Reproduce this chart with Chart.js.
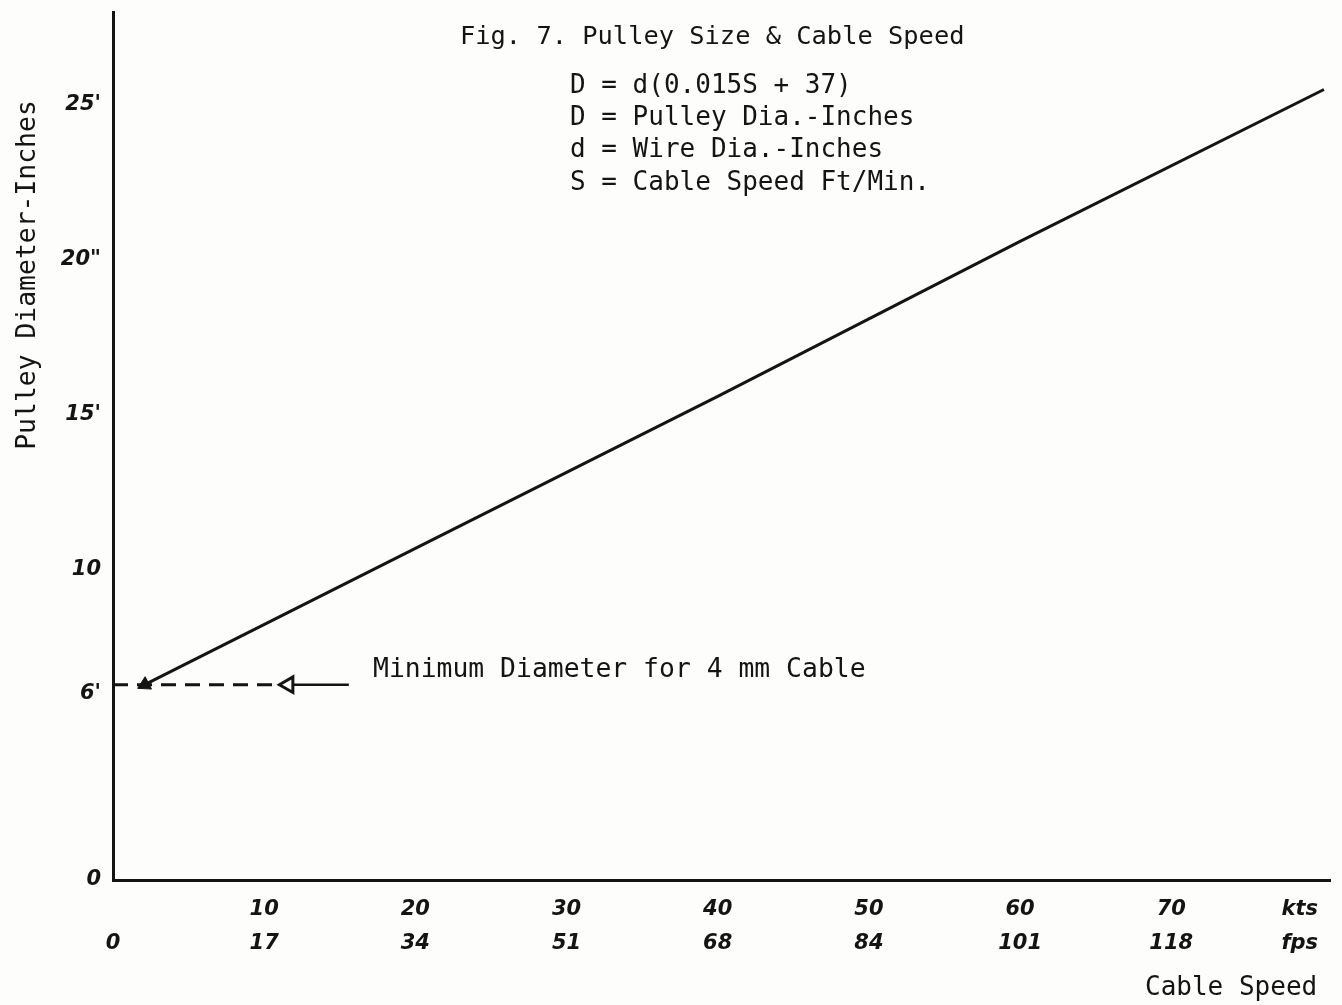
<!DOCTYPE html>
<html>
<head>
<meta charset="utf-8">
<title>Fig. 7 Pulley Size & Cable Speed</title>
<script src="https://cdn.jsdelivr.net/npm/chart.js@4.4.1/dist/chart.umd.min.js"></script>
<style>
    html, body { margin: 0; padding: 0; background: #fdfdfc; }
    #wrap { width: 1342px; height: 1005px; }
</style>
</head>
<body>
<div id="wrap"><canvas id="pulleyChart" width="1342" height="1005"></canvas></div>
<script>
// values
const speedKnots = [2.1, 20, 40, 60, 80.1];
const pulleyDia = [6.3, 10.7, 15.6, 20.6, 25.5];

// minimum diameter marker (4 mm cable)
const minDia = 6.3;
const minDashKnots = [0, 11];
const minLeaderKnots = [11.6, 15.6];

// axis ticks
const xTickValues = [0, 10, 20, 30, 40, 50, 60, 70, 78.5];
const knotLabels = ['', '10', '20', '30', '40', '50', '60', '70', 'kts'];
const fpsLabels = ['0', '17', '34', '51', '68', '84', '101', '118', 'fps'];
const yTickValues = [0, 6, 10, 15, 20, 25];
const yTickLabels = ['0', '6\'', '10', '15\'', '20"', '25\''];

const titleLines = [
    'D = d(0.015S + 37)',
    'D = Pulley Dia.-Inches',
    'd = Wire Dia.-Inches',
    'S = Cable Speed Ft/Min.'
];

const INK = '#141414';
const TYPE_FONT = '"DejaVu Sans Mono", "Liberation Mono", monospace';
const HAND_FONT = { family: '"DejaVu Sans", sans-serif', size: 21, style: 'italic', weight: 'bold', lineHeight: 1.65 };

// typed text on the figure
const typedText = {
    id: 'typedText',
    afterDraw(chart) {
        const ctx = chart.ctx;
        ctx.save();
        ctx.fillStyle = INK;
        ctx.textBaseline = 'middle';
        ctx.textAlign = 'left';
        ctx.font = '25.4px ' + TYPE_FONT;
        ctx.fillText('Fig. 7. Pulley Size & Cable Speed', 460, 37);

        ctx.font = '26px ' + TYPE_FONT;
        titleLines.forEach((line, i) => {
            ctx.fillText(line, 570, 86 + i * 32.3);
        });

        ctx.font = '26.4px ' + TYPE_FONT;
        ctx.fillText('Minimum Diameter for 4 mm Cable', 373, 670);

        ctx.font = '26px ' + TYPE_FONT;
        ctx.fillText('Cable Speed', 1145, 988);

        // y axis title
        ctx.font = '26.4px ' + TYPE_FONT;
        ctx.translate(28, 275);
        ctx.rotate(-Math.PI / 2);
        ctx.textAlign = 'center';
        ctx.fillText('Pulley Diameter-Inches', 0, 0);
        ctx.restore();
    }
};

const ctx = document.getElementById('pulleyChart');

new Chart(ctx, {
    type: 'line',
    data: {
        datasets: [
            {
                label: 'Pulley diameter',
                data: speedKnots.map((s, i) => ({ x: s, y: pulleyDia[i] })),
                borderColor: INK,
                backgroundColor: INK,
                borderWidth: 3,
                tension: 0,
                pointStyle: 'triangle',
                pointRadius: speedKnots.map((s, i) => i === 0 ? 8 : 0),
                pointRotation: 243,
                pointBorderWidth: 1
            },
            {
                label: 'Minimum diameter',
                data: minDashKnots.map(s => ({ x: s, y: minDia })),
                borderColor: INK,
                borderWidth: 3,
                borderDash: [15, 9],
                pointRadius: 0
            },
            {
                label: 'Leader',
                data: minLeaderKnots.map(s => ({ x: s, y: minDia })),
                borderColor: INK,
                backgroundColor: '#fdfdfc',
                borderWidth: 2.5,
                pointStyle: 'triangle',
                pointRadius: [9, 0],
                pointRotation: 270,
                pointBorderWidth: 3
            }
        ]
    },
    options: {
        responsive: false,
        animation: false,
        layout: { padding: { top: 9, right: 7, left: 0, bottom: 0 } },
        plugins: {
            legend: { display: false },
            tooltip: { enabled: false },
            title: { display: false }
        },
        scales: {
            x: {
                type: 'linear',
                position: 'bottom',
                min: 0,
                max: 80.5,
                grid: { display: false, drawTicks: false },
                border: { display: true, color: INK, width: 3 },
                afterBuildTicks(scale) {
                    scale.ticks = xTickValues.map(v => ({ value: v }));
                },
                afterFit(scale) {
                    scale.height = 125;
                    scale.paddingLeft = 0;
                    scale.paddingRight = 0;
                },
                ticks: {
                    autoSkip: false,
                    maxRotation: 0,
                    padding: 12,
                    color: INK,
                    font: HAND_FONT,
                    callback: (value) => {
                        const i = xTickValues.indexOf(value);
                        return i < 0 ? '' : [knotLabels[i], fpsLabels[i]];
                    }
                }
            },
            y: {
                type: 'linear',
                min: 0,
                max: 28,
                grid: { display: false, drawTicks: false },
                border: { display: true, color: INK, width: 3 },
                afterBuildTicks(scale) {
                    scale.ticks = yTickValues.map(v => ({ value: v }));
                },
                afterFit(scale) {
                    scale.width = 113;
                    scale.paddingTop = 0;
                    scale.paddingBottom = 0;
                },
                ticks: {
                    autoSkip: false,
                    padding: 12,
                    color: INK,
                    font: { family: HAND_FONT.family, size: 21, style: 'italic', weight: 'bold' },
                    callback: (value) => {
                        const i = yTickValues.indexOf(value);
                        return i < 0 ? '' : yTickLabels[i];
                    }
                }
            }
        }
    },
    plugins: [typedText]
});
</script>
</body>
</html>
